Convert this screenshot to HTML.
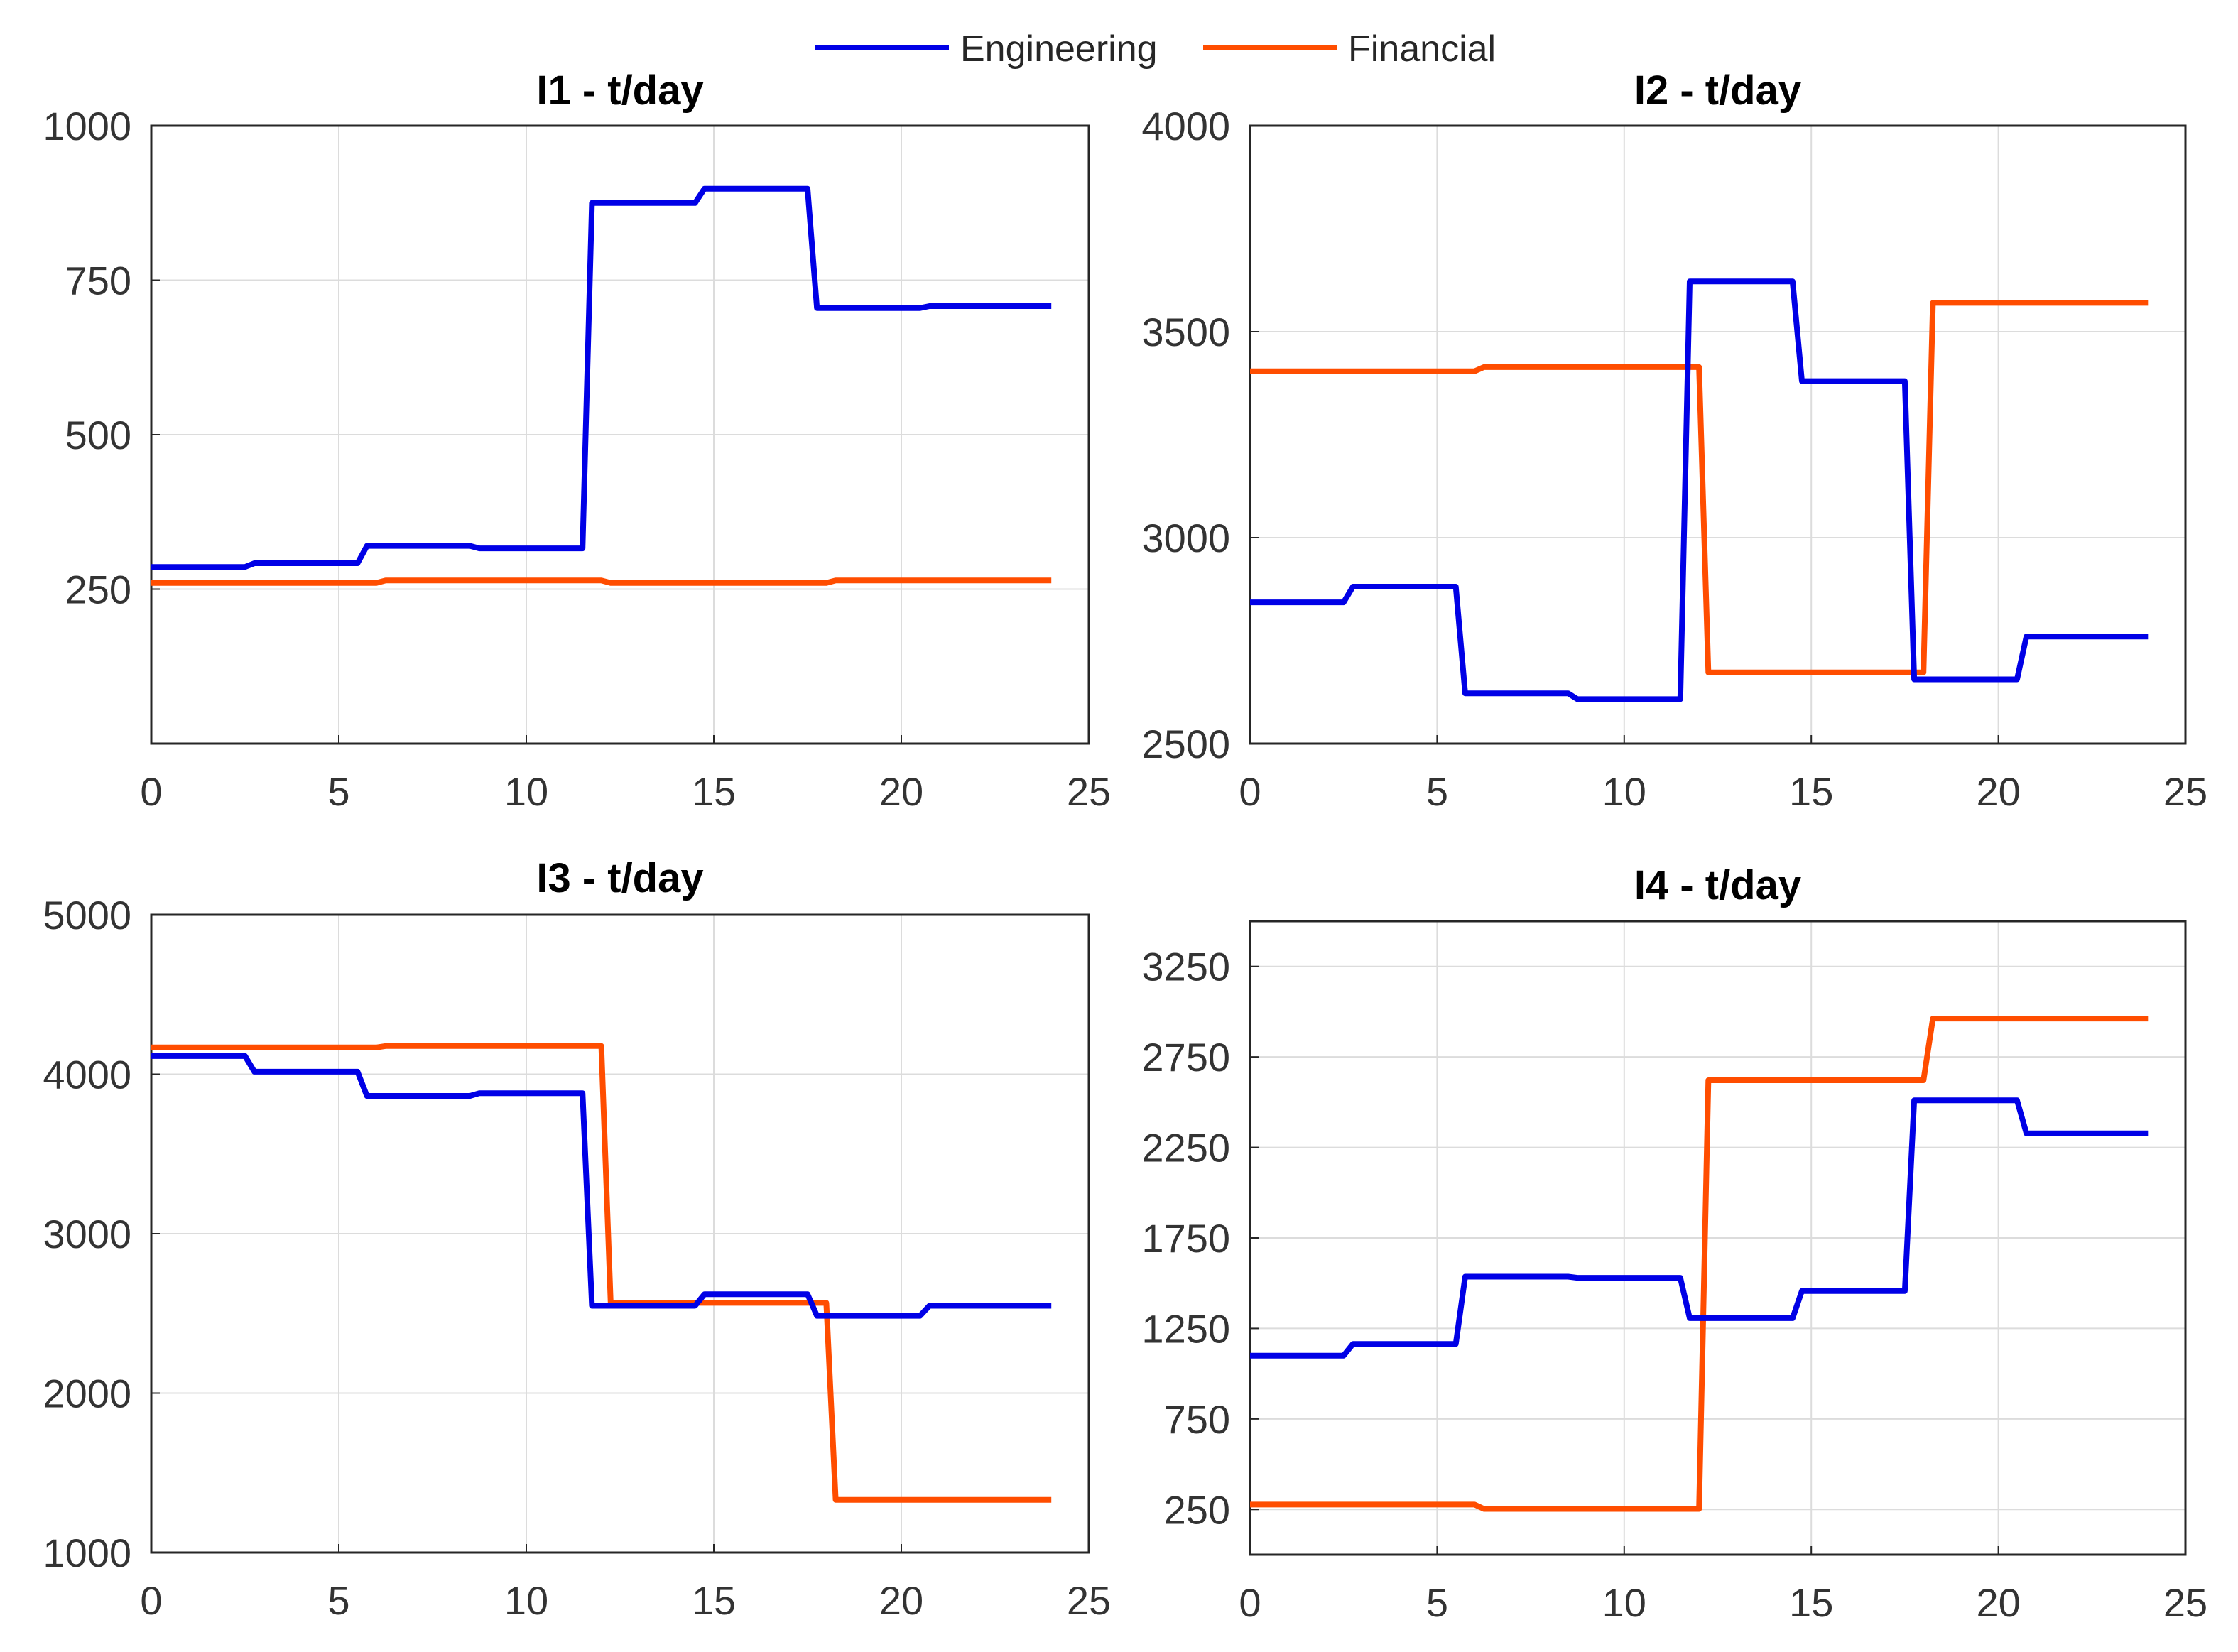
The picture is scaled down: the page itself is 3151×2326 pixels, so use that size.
<!DOCTYPE html>
<html><head><meta charset="utf-8">
<style>
html,body{margin:0;padding:0;background:#fff;}
svg{display:block;font-family:"Liberation Sans",Arial,sans-serif;}
</style></head>
<body>
<svg id="chart" width="3151" height="2326" viewBox="0 0 3151 2326" xmlns="http://www.w3.org/2000/svg">
  <rect x="0" y="0" width="3151" height="2326" fill="#fff"/>
  <g>
    <g>
      <line x1="1148" y1="67" x2="1336" y2="67" stroke="#0000e6" stroke-width="8"/>
      <text x="1352" y="86" font-size="52" fill="#262626">Engineering</text>
    </g>
    <g>
      <line x1="1694" y1="67" x2="1882" y2="67" stroke="#ff4d00" stroke-width="8"/>
      <text x="1898" y="86" font-size="52" fill="#262626">Financial</text>
    </g>
  </g>
</svg>
<script>
// ---- data ----
const xTicks = [0, 5, 10, 15, 20, 25];
const panelTitles = ["I1 - t/day", "I2 - t/day", "I3 - t/day", "I4 - t/day"];
const yDomains = [[0, 1000], [2500, 4000], [1000, 5000], [0, 3500]];
const yTicks1 = [250, 500, 750, 1000];
const yTicks2 = [2500, 3000, 3500, 4000];
const yTicks3 = [1000, 2000, 3000, 4000, 5000];
const yTicks4 = [250, 750, 1250, 1750, 2250, 2750, 3250];
// Engineering: 3-hour blocks (changes at 2.5, 5.5, ... 20.5)
const engI1 = [286, 292, 320, 316, 875, 898, 705, 708];
const engI2 = [2843, 2881, 2622, 2608, 3622, 3380, 2656, 2760];
const engI3 = [4114, 4016, 3864, 3881, 2548, 2620, 2485, 2548];
const engI4 = [1100, 1164, 1536, 1530, 1307, 1457, 2510, 2328];
// Financial: 6-hour blocks (changes at 6, 12, 18)
const finI1 = [260, 264, 260, 264];
const finI2 = [3404, 3414, 2673, 3570];
const finI3 = [4168, 4177, 2566, 1331];
const finI4 = [277, 253, 2621, 2962];

const yTicksAll = [yTicks1, yTicks2, yTicks3, yTicks4];
const engAll = [engI1, engI2, engI3, engI4];
const finAll = [finI1, finI2, finI3, finI4];
const boxes = [
  {x0:213, x1:1533, y0:177, y1:1047, ty:147},
  {x0:1760, x1:3077, y0:177, y1:1047, ty:147},
  {x0:213, x1:1533, y0:1288, y1:2186, ty:1256},
  {x0:1760, x1:3077, y0:1297, y1:2189, ty:1266}
];
const NS = "http://www.w3.org/2000/svg";
const svg = document.getElementById('chart');
function mk(tag, attrs, parent){
  const e = document.createElementNS(NS, tag);
  for (const k in attrs) e.setAttribute(k, attrs[k]);
  parent.appendChild(e);
  return e;
}
function stepPoints(vals, blockLen, offset, ramp){
  const pts = [[0, vals[0]]];
  for (let i = 1; i < vals.length; i++){
    const t = i*blockLen - offset;
    pts.push([t, vals[i-1]]);
    pts.push([t+ramp, vals[i]]);
  }
  pts.push([24, vals[vals.length-1]]);
  return pts;
}
boxes.forEach((b, p) => {
  const g = mk('g', {}, svg);
  
  
  const dom = yDomains[p];
  const xs = t => b.x0 + (t - 0) / 25 * (b.x1 - b.x0);
  const ys = v => b.y1 - (v - dom[0]) / (dom[1] - dom[0]) * (b.y1 - b.y0);
  xTicks.forEach(t => {
    const l = mk('line', {x1:xs(t), x2:xs(t), y1:b.y0, y2:b.y1, stroke:'#dcdcdc', 'stroke-width':2}, g);
    
    
    mk('line', {x1:xs(t), x2:xs(t), y1:b.y1, y2:b.y1-12, stroke:'#262626', 'stroke-width':2}, g);
    const tx = mk('text', {x:xs(t), y:b.y1+87, 'font-size':56, fill:'#333', 'text-anchor':'middle'}, g);
    
    
    tx.textContent = t;
  });
  yTicksAll[p].forEach(v => {
    const l = mk('line', {x1:b.x0, x2:b.x1, y1:ys(v), y2:ys(v), stroke:'#dcdcdc', 'stroke-width':2}, g);
    
    
    mk('line', {x1:b.x0, x2:b.x0+12, y1:ys(v), y2:ys(v), stroke:'#262626', 'stroke-width':2}, g);
    const tx = mk('text', {x:b.x0-28, y:ys(v)+20, 'font-size':56, fill:'#333', 'text-anchor':'end'}, g);
    
    
    tx.textContent = v;
  });
  const r = mk('rect', {x:b.x0, y:b.y0, width:b.x1-b.x0, height:b.y1-b.y0, fill:'none', stroke:'#262626', 'stroke-width':3}, g);
  
  
  const tt = mk('text', {x:(b.x0+b.x1)/2, y:b.ty, 'font-size':58, 'font-weight':'bold', fill:'#000', 'text-anchor':'middle'}, g);
  
  
  tt.textContent = panelTitles[p];
  const fin = stepPoints(finAll[p], 6, 0, 0.25);
  const eng = stepPoints(engAll[p], 3, 0.5, 0.25);
  const fp = mk('polyline', {points: fin.map(q => xs(q[0]).toFixed(1)+','+ys(q[1]).toFixed(1)).join(' '), fill:'none', stroke:'#ff4d00', 'stroke-width':8, 'stroke-linejoin':'round'}, g);
  
  
  const ep = mk('polyline', {points: eng.map(q => xs(q[0]).toFixed(1)+','+ys(q[1]).toFixed(1)).join(' '), fill:'none', stroke:'#0000e6', 'stroke-width':8, 'stroke-linejoin':'round'}, g);
  
  
});
</script>
</body></html>
